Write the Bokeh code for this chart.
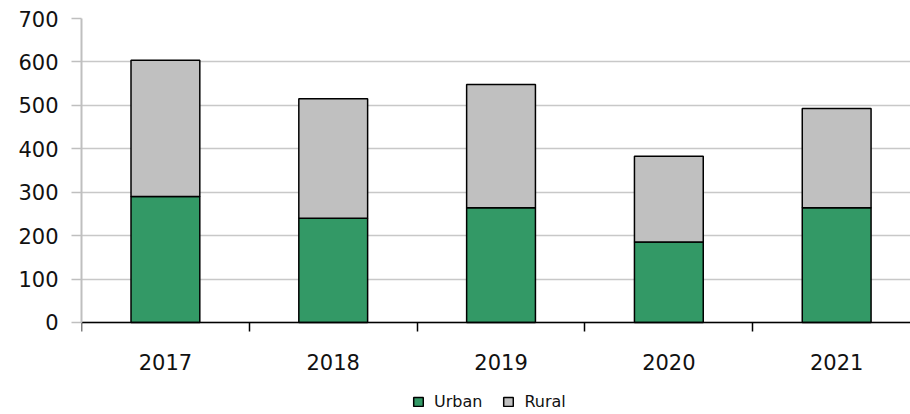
from bokeh.plotting import figure
from bokeh.models import ColumnDataSource, FixedTicker, Range1d, Legend, LegendItem
from bokeh.embed import file_html
from bokeh.resources import INLINE

years = ["2017", "2018", "2019", "2020", "2021"]
urban = [290, 240, 264, 185, 264]
rural = [314, 275, 284, 198, 229]
series = ["Urban", "Rural"]
colors = ["#339966", "#C0C0C0"]
y_ticks = [0, 100, 200, 300, 400, 500, 600, 700]

idx = list(range(len(years)))
src = ColumnDataSource(dict(x=idx, Urban=urban, Rural=rural))

# the frame reaches the bottom of the page, so the legend can sit inside it
p = figure(width=910, height=414, output_backend="svg", toolbar_location=None,
           x_range=Range1d(-0.5, 4.44), y_range=Range1d(-212, 700),
           min_border_left=81, min_border_right=0, min_border_top=18, min_border_bottom=0)
p.outline_line_color = None
p.background_fill_color = "white"
p.border_fill_color = "white"

rs = p.vbar_stack(series, x="x", width=0.41, source=src, fill_color=colors,
                  line_color="black", line_width=1.5)

font = "DejaVu Sans"
xa = p.xaxis[0]
xa.fixed_location = 0
xa.ticker = FixedTicker(ticks=idx, minor_ticks=[i - 0.5 for i in idx])
xa.major_label_overrides = {i: y for i, y in zip(idx, years)}
xa.major_tick_out = 0
xa.major_tick_in = 0
xa.minor_tick_out = 9
xa.minor_tick_in = 0
xa.minor_tick_line_color = "black"
xa.minor_tick_line_width = 1.5
xa.axis_line_color = "black"
xa.axis_line_width = 1.5
xa.major_label_text_font = font
xa.major_label_text_font_size = "21px"
xa.major_label_text_color = "#111111"
xa.major_label_standoff = 23

ya = p.yaxis[0]
ya.bounds = (0, 700)
ya.ticker = FixedTicker(ticks=y_ticks, minor_ticks=[])
ya.axis_line_color = "#BFBFBF"
ya.axis_line_width = 2
ya.major_tick_out = 10
ya.major_tick_in = 0
ya.major_tick_line_color = "#BFBFBF"
ya.major_tick_line_width = 1.5
ya.minor_tick_line_color = None
ya.major_label_text_font = font
ya.major_label_text_font_size = "21px"
ya.major_label_text_color = "#111111"
ya.major_label_standoff = 13

p.xgrid.grid_line_color = None
p.ygrid.ticker = FixedTicker(ticks=y_ticks)
p.ygrid.grid_line_color = "#C8C8C8"
p.ygrid.grid_line_width = 1.5

legend = Legend(items=[LegendItem(label=s, renderers=[r]) for s, r in zip(series, rs)],
                location=(331, 3), orientation="horizontal",
                label_text_font=font, label_text_font_size="16px", label_text_color="#111111",
                glyph_width=12, glyph_height=11, label_height=12, label_standoff=10,
                spacing=20, padding=0, margin=0,
                border_line_color=None, background_fill_alpha=0)
p.add_layout(legend, "center")

open("out.html", "w").write(file_html(p, INLINE))
